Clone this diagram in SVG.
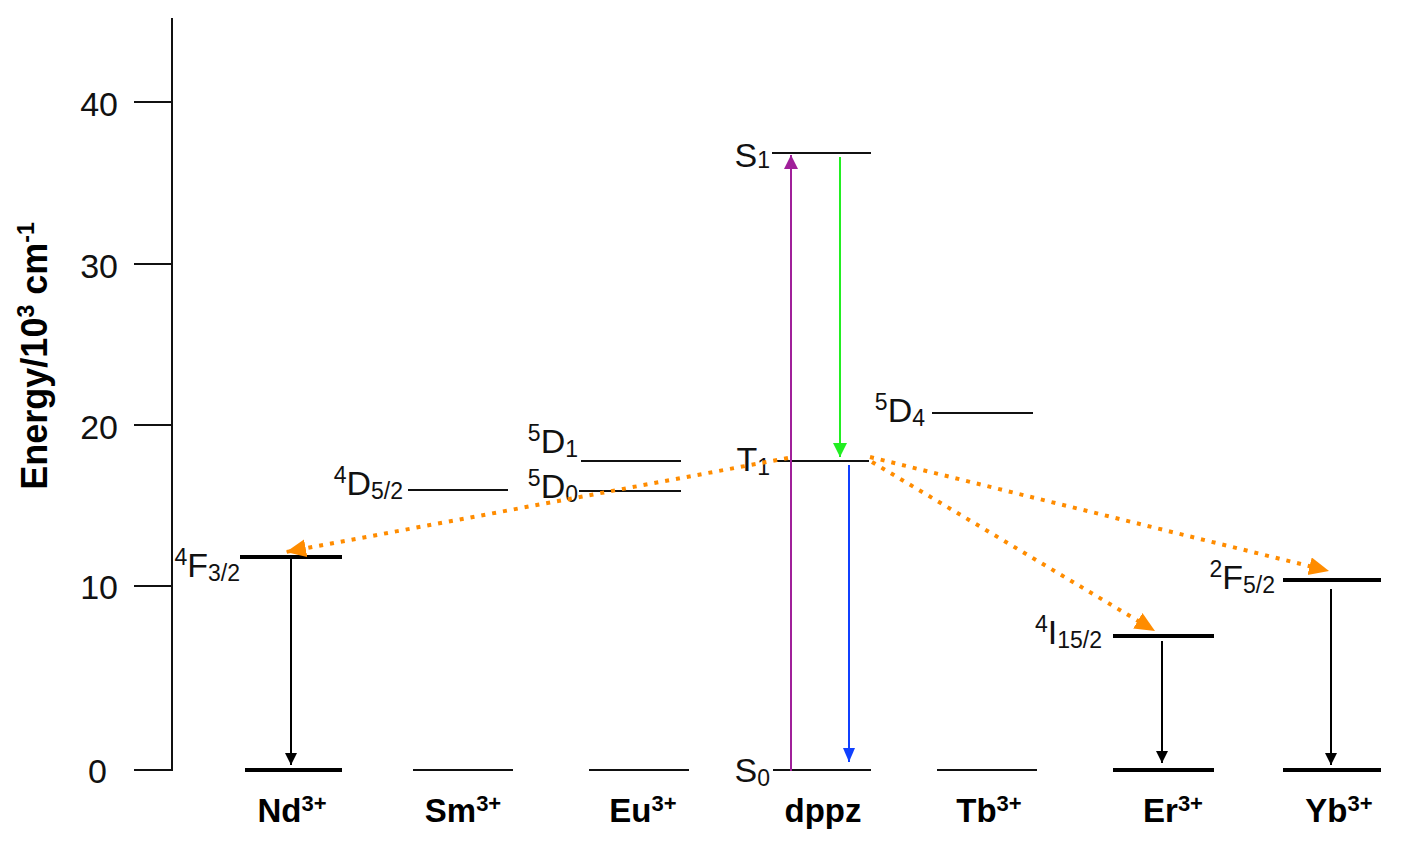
<svg xmlns="http://www.w3.org/2000/svg" width="1407" height="847" viewBox="0 0 1407 847">
<style>
.ax{stroke:#111;stroke-width:2;fill:none}
.thin{stroke:#111;stroke-width:2.2}
.thick{stroke:#000;stroke-width:4}
.t{font-family:"Liberation Sans",Arial,sans-serif;font-size:34px;fill:#111}
.s{font-size:23px}
.ion{font-family:"Liberation Sans",Arial,sans-serif;font-size:33px;font-weight:bold;fill:#000;text-anchor:middle}
.orange{stroke:#ff8c00;stroke-width:4;stroke-dasharray:4 7;fill:none}
</style>
<defs>
<marker id="ak" markerUnits="userSpaceOnUse" markerWidth="12" markerHeight="16" refX="12" refY="6" orient="auto"><path d="M0,0L12,6L0,12z" fill="#000"/></marker>
<marker id="ap" markerUnits="userSpaceOnUse" markerWidth="16" markerHeight="16" refX="14" refY="7" orient="auto"><path d="M0,0L14,7L0,14z" fill="#a0209a"/></marker>
<marker id="ag" markerUnits="userSpaceOnUse" markerWidth="16" markerHeight="16" refX="14" refY="7" orient="auto"><path d="M0,0L14,7L0,14z" fill="#22ee22"/></marker>
<marker id="ab" markerUnits="userSpaceOnUse" markerWidth="16" markerHeight="16" refX="14" refY="6" orient="auto"><path d="M0,0L14,6L0,12z" fill="#1040ff"/></marker>
<marker id="ao" markerUnits="userSpaceOnUse" markerWidth="22" markerHeight="20" refX="20" refY="9" orient="auto"><path d="M0,0L20,9L0,18z" fill="#ff8c00"/></marker>
</defs>

<g id="axis">
<line class="ax" x1="172" y1="18" x2="172" y2="771"/>
<line class="ax" x1="134" y1="102" x2="172" y2="102"/>
<line class="ax" x1="134" y1="264" x2="172" y2="264"/>
<line class="ax" x1="134" y1="425" x2="172" y2="425"/>
<line class="ax" x1="134" y1="586" x2="172" y2="586"/>
<line class="ax" x1="134" y1="770" x2="172" y2="770"/>
<text class="t" x="118" y="116" text-anchor="end">40</text>
<text class="t" x="118" y="278" text-anchor="end">30</text>
<text class="t" x="118" y="439" text-anchor="end">20</text>
<text class="t" x="118" y="599" text-anchor="end">10</text>
<text class="t" x="107" y="783" text-anchor="end">0</text>
<text font-family="Liberation Sans,Arial,sans-serif" font-size="36" font-weight="bold" fill="#000" text-anchor="middle" transform="translate(47,356) rotate(-90)">Energy/10<tspan font-size="23" dy="-13">3</tspan><tspan dy="13"> cm</tspan><tspan font-size="23" dy="-13">-1</tspan></text>
</g>

<g id="Nd">
<line class="thick" x1="245" y1="770" x2="342" y2="770"/>
<line class="thick" x1="240" y1="557" x2="342" y2="557"/>
<text class="t" x="240" y="577" text-anchor="end"><tspan class="s" dy="-12">4</tspan><tspan dy="12">F</tspan><tspan class="s" dy="4">3/2</tspan></text>
<text class="ion" x="292" y="822">Nd<tspan font-size="22" dy="-11">3+</tspan></text>
</g>

<g id="Sm">
<line class="thin" x1="413" y1="770" x2="513" y2="770"/>
<line class="thin" x1="408" y1="490" x2="508" y2="490"/>
<text class="t" x="403" y="495" text-anchor="end"><tspan class="s" dy="-12">4</tspan><tspan dy="12">D</tspan><tspan class="s" dy="4">5/2</tspan></text>
<text class="ion" x="463" y="822">Sm<tspan font-size="22" dy="-11">3+</tspan></text>
</g>

<g id="Eu">
<line class="thin" x1="589" y1="770" x2="689" y2="770"/>
<line class="thin" x1="581" y1="461" x2="681" y2="461"/>
<line class="thin" x1="579" y1="491" x2="681" y2="491"/>
<text class="t" x="578" y="453" text-anchor="end"><tspan class="s" dy="-12">5</tspan><tspan dy="12">D</tspan><tspan class="s" dy="4">1</tspan></text>
<text class="t" x="578" y="498" text-anchor="end"><tspan class="s" dy="-12">5</tspan><tspan dy="12">D</tspan><tspan class="s" dy="4">0</tspan></text>
<text class="ion" x="643" y="822">Eu<tspan font-size="22" dy="-11">3+</tspan></text>
</g>

<g id="dppz">
<line class="thin" x1="773" y1="770" x2="871" y2="770"/>
<line class="thin" x1="772" y1="153" x2="871" y2="153"/>
<line class="thin" x1="775" y1="461" x2="869" y2="461"/>
<text class="t" x="770" y="167" text-anchor="end">S<tspan class="s" dy="1">1</tspan></text>
<text class="t" x="770" y="471" text-anchor="end">T<tspan class="s" dy="4">1</tspan></text>
<text class="t" x="770" y="782" text-anchor="end">S<tspan class="s" dy="4">0</tspan></text>
<text class="ion" x="823" y="822">dppz</text>
</g>

<g id="Tb">
<line class="thin" x1="937" y1="770" x2="1037" y2="770"/>
<line class="thin" x1="932" y1="413" x2="1033" y2="413"/>
<text class="t" x="925" y="422" text-anchor="end"><tspan class="s" dy="-12">5</tspan><tspan dy="12">D</tspan><tspan class="s" dy="4">4</tspan></text>
<text class="ion" x="989" y="822">Tb<tspan font-size="22" dy="-11">3+</tspan></text>
</g>

<g id="Er">
<line class="thick" x1="1113" y1="770" x2="1214" y2="770"/>
<line class="thick" x1="1113" y1="636" x2="1214" y2="636"/>
<text class="t" x="1102" y="644" text-anchor="end"><tspan class="s" dy="-12">4</tspan><tspan dy="12">I</tspan><tspan class="s" dy="4">15/2</tspan></text>
<text class="ion" x="1173" y="822">Er<tspan font-size="22" dy="-11">3+</tspan></text>
</g>

<g id="Yb">
<line class="thick" x1="1283" y1="770" x2="1381" y2="770"/>
<line class="thick" x1="1283" y1="580" x2="1381" y2="580"/>
<text class="t" x="1275" y="589" text-anchor="end"><tspan class="s" dy="-12">2</tspan><tspan dy="12">F</tspan><tspan class="s" dy="4">5/2</tspan></text>
<text class="ion" x="1339" y="822">Yb<tspan font-size="22" dy="-11">3+</tspan></text>
</g>

<g id="connectors">
<line stroke="#000" stroke-width="2" x1="291" y1="559" x2="291" y2="765" marker-end="url(#ak)"/>
<line stroke="#000" stroke-width="2" x1="1162" y1="641" x2="1162" y2="763" marker-end="url(#ak)"/>
<line stroke="#000" stroke-width="2" x1="1331" y1="589" x2="1331" y2="765" marker-end="url(#ak)"/>
<line stroke="#a0209a" stroke-width="2" x1="791" y1="771" x2="791" y2="155" marker-end="url(#ap)"/>
<line stroke="#22ee22" stroke-width="2" x1="840" y1="157" x2="840" y2="457" marker-end="url(#ag)"/>
<line stroke="#1040ff" stroke-width="2" x1="849" y1="465" x2="849" y2="762" marker-end="url(#ab)"/>
<line class="orange" x1="788" y1="458" x2="286" y2="552" marker-end="url(#ao)"/>
<line class="orange" x1="870" y1="457" x2="1329" y2="571" marker-end="url(#ao)"/>
<line class="orange" x1="872" y1="462" x2="1155" y2="631" marker-end="url(#ao)"/>
</g>
</svg>
